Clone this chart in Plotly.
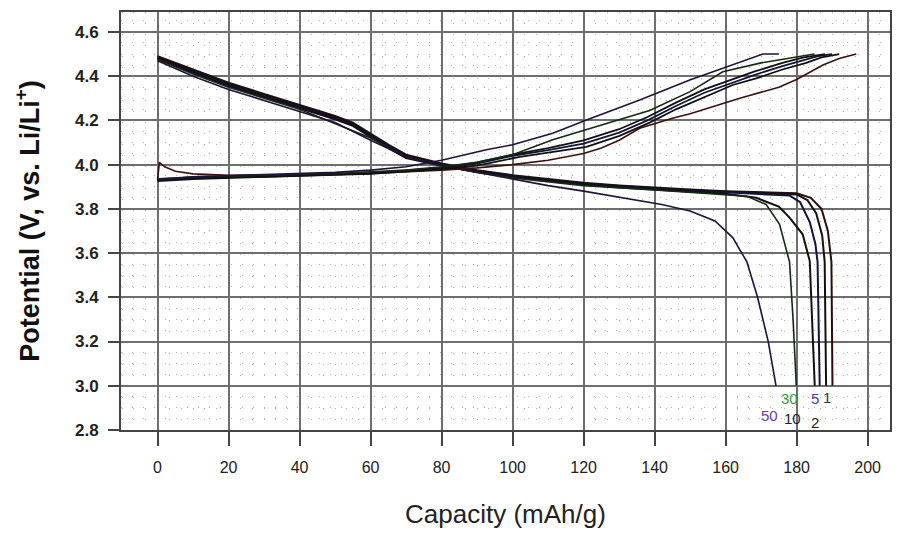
import plotly.graph_objects as go

# ---------------- data ----------------
# Discharge curves: capacity (mAh/g) and potential (V)
dis1_cap = [0, 10, 20, 30, 40, 50, 55, 60, 65, 70, 80, 90, 100, 110, 120, 130, 140, 150, 160, 170, 180, 184, 187, 188.8, 189.8, 190.1]
dis1_v = [4.49, 4.43, 4.37, 4.32, 4.27, 4.22, 4.19, 4.14, 4.09, 4.045, 4.005, 3.975, 3.952, 3.935, 3.918, 3.906, 3.896, 3.887, 3.88, 3.875, 3.87, 3.85, 3.80, 3.70, 3.56, 3.0]

dis2_cap = [0, 10, 20, 30, 40, 50, 55, 60, 65, 70, 80, 90, 100, 110, 120, 130, 140, 150, 160, 170, 180, 183, 185.5, 187.2, 187.9, 188.3]
dis2_v = [4.485, 4.425, 4.365, 4.315, 4.265, 4.215, 4.185, 4.135, 4.085, 4.04, 4.0, 3.972, 3.95, 3.932, 3.915, 3.903, 3.893, 3.884, 3.877, 3.872, 3.865, 3.84, 3.78, 3.68, 3.56, 3.0]

dis5_cap = [0, 10, 20, 30, 40, 50, 55, 60, 65, 70, 80, 90, 100, 110, 120, 130, 140, 150, 160, 170, 178, 181, 183.7, 185.3, 185.9, 186.5]
dis5_v = [4.48, 4.42, 4.36, 4.31, 4.26, 4.21, 4.18, 4.13, 4.08, 4.035, 3.998, 3.97, 3.948, 3.93, 3.913, 3.9, 3.89, 3.882, 3.875, 3.868, 3.86, 3.83, 3.74, 3.64, 3.56, 3.0]

dis10_cap = [0, 10, 20, 30, 40, 50, 55, 60, 65, 70, 80, 90, 100, 110, 120, 130, 140, 150, 160, 168.6, 175, 178, 181.7, 183.7, 185.1]
dis10_v = [4.48, 4.415, 4.355, 4.305, 4.255, 4.205, 4.175, 4.125, 4.075, 4.03, 3.995, 3.967, 3.945, 3.927, 3.91, 3.897, 3.887, 3.878, 3.868, 3.85, 3.81, 3.76, 3.685, 3.564, 3.0]

dis30_cap = [0, 10, 20, 40, 60, 70, 80, 90, 100, 120, 140, 155, 166, 171.4, 175.2, 178, 179, 179.9]
dis30_v = [4.475, 4.41, 4.35, 4.25, 4.12, 4.035, 3.995, 3.965, 3.94, 3.905, 3.885, 3.87, 3.857, 3.82, 3.73, 3.56, 3.3, 3.0]

dis50_cap = [0, 10, 20, 40, 50, 60, 70, 80, 90, 100, 110, 120, 134, 142, 150, 157, 162, 166, 169, 172, 174.2]
dis50_v = [4.47, 4.40, 4.34, 4.24, 4.19, 4.11, 4.035, 3.995, 3.965, 3.935, 3.905, 3.88, 3.842, 3.82, 3.79, 3.745, 3.67, 3.56, 3.40, 3.2, 3.0]

# Charge curves
chg1_cap = [0, 0.5, 2, 5, 10, 20, 40, 60, 80, 90, 100, 110, 120, 125, 130, 135.8, 145, 150, 164, 175, 180, 187.4, 192, 196.8]
chg1_v = [3.93, 4.01, 3.99, 3.97, 3.958, 3.952, 3.955, 3.96, 3.975, 3.985, 4.0, 4.02, 4.05, 4.075, 4.11, 4.164, 4.21, 4.23, 4.30, 4.35, 4.385, 4.45, 4.48, 4.5]

chg2_cap = [0, 10, 30, 60, 80, 90, 102, 110, 120.8, 130.1, 138.6, 146, 154.6, 162, 168.6, 176, 182.7, 187, 192]
chg2_v = [3.935, 3.94, 3.945, 3.958, 3.98, 3.995, 4.035, 4.055, 4.08, 4.13, 4.19, 4.25, 4.31, 4.36, 4.39, 4.43, 4.46, 4.485, 4.5]

chg5_cap = [0, 10, 30, 60, 80, 90, 100, 110, 120, 130, 138, 146, 154, 162, 168, 176, 182, 186, 190]
chg5_v = [3.93, 3.94, 3.948, 3.962, 3.985, 4.005, 4.04, 4.065, 4.095, 4.145, 4.2, 4.265, 4.325, 4.37, 4.405, 4.445, 4.47, 4.49, 4.5]

chg10_cap = [0, 10, 30, 60, 80, 90, 100, 110, 120, 130, 138, 146, 154, 162, 168, 176, 182, 188]
chg10_v = [3.925, 3.935, 3.945, 3.96, 3.985, 4.01, 4.045, 4.075, 4.11, 4.16, 4.215, 4.28, 4.34, 4.385, 4.42, 4.46, 4.485, 4.5]

chg30_cap = [0, 10, 30, 50, 70, 80, 90, 100, 111.3, 125, 138.6, 150, 159.2, 170, 180.8, 185]
chg30_v = [3.935, 3.945, 3.952, 3.96, 3.975, 3.99, 4.01, 4.045, 4.112, 4.18, 4.245, 4.33, 4.42, 4.46, 4.487, 4.5]

chg50_cap = [0, 10, 30, 50, 60, 70, 80, 92.6, 100, 111.3, 120.8, 135.8, 149.9, 160, 164, 170.5, 175]
chg50_v = [3.93, 3.945, 3.955, 3.965, 3.975, 3.99, 4.02, 4.067, 4.09, 4.142, 4.202, 4.292, 4.382, 4.44, 4.465, 4.5, 4.5]

# Cycle labels near the curve ends
cycle_labels = ["30", "5", "1", "50", "10", "2"]
label_cap = [178.0, 185.1, 188.5, 172.4, 178.9, 185.1]
label_v = [2.942, 2.942, 2.946, 2.866, 2.852, 2.834]
label_colors = ["#3a9a3a", "#3b3bb0", "#333333", "#6a3ab0", "#222222", "#222222"]

x_ticks = [0, 20, 40, 60, 80, 100, 120, 140, 160, 180, 200]
y_ticks = [2.8, 3.0, 3.2, 3.4, 3.6, 3.8, 4.0, 4.2, 4.4, 4.6]
y_tick_text = ["2.8", "3.0", "3.2", "3.4", "3.6", "3.8", "4.0", "4.2", "4.4", "4.6"]

# ---------------- figure ----------------
fig = go.Figure()

curves = [
    (dis1_cap, dis1_v, "#2a0e0e", 2.0), (dis2_cap, dis2_v, "#111111", 2.0),
    (dis5_cap, dis5_v, "#14143a", 2.0), (dis10_cap, dis10_v, "#111111", 2.0),
    (dis30_cap, dis30_v, "#142a14", 1.6), (dis50_cap, dis50_v, "#22123a", 1.6),
    (chg1_cap, chg1_v, "#3a1010", 1.6), (chg2_cap, chg2_v, "#111111", 1.8),
    (chg5_cap, chg5_v, "#14143a", 1.8), (chg10_cap, chg10_v, "#111111", 1.8),
    (chg30_cap, chg30_v, "#142a14", 1.6), (chg50_cap, chg50_v, "#22123a", 1.6),
]
for cx, cv, col, w in curves:
    fig.add_trace(go.Scatter(x=cx, y=cv, mode="lines",
                             line=dict(color=col, width=w),
                             showlegend=False, hoverinfo="skip"))

for t, lx, ly, lc in zip(cycle_labels, label_cap, label_v, label_colors):
    fig.add_annotation(x=lx, y=ly, text=t, showarrow=False,
                       font=dict(family="Liberation Sans", size=15, color=lc))

axis_common = dict(
    showline=True, mirror=True, linecolor="#444444", linewidth=2,
    showgrid=True, gridcolor="#6e6e6e", gridwidth=1.5,
    ticks="outside", tickcolor="#444444", tickwidth=2,
    zeroline=False,
)

fig.update_xaxes(
    range=[-10.3, 206.3], tickvals=x_ticks, ticklen=14,
    ticklabelstandoff=8,
    tickfont=dict(family="Liberation Sans", size=16, color="#222222"),
    title=dict(text="Capacity (mAh/g)", standoff=30,
               font=dict(family="Liberation Sans", size=26, color="#222222")),
    minor=dict(dtick=20 / 6, tick0=0, showgrid=True, gridcolor="#b0b0b0",
               gridwidth=1, griddash="1px,10px"),
    **axis_common,
)
fig.update_yaxes(
    range=[2.8, 4.69], tickvals=y_ticks, ticktext=y_tick_text, ticklen=11,
    ticklabelstandoff=6,
    tickfont=dict(family="Liberation Sans", size=17, color="#222222", weight="bold"),
    title=dict(text="Potential (V, vs. Li/Li<sup>+</sup>)", standoff=28,
               font=dict(family="Liberation Sans", size=27, color="#111111", weight="bold")),
    minor=dict(dtick=0.05, tick0=2.8, showgrid=True, gridcolor="#b0b0b0",
               gridwidth=1, griddash="1px,10px"),
    **axis_common,
)

# the page body adds an 8px offset, so the figure is sized to compensate
fig.update_layout(
    width=893, height=528,
    margin=dict(l=113, r=11, t=2, b=106),
    paper_bgcolor="white", plot_bgcolor="white",
)

fig.write_html("out.html")
